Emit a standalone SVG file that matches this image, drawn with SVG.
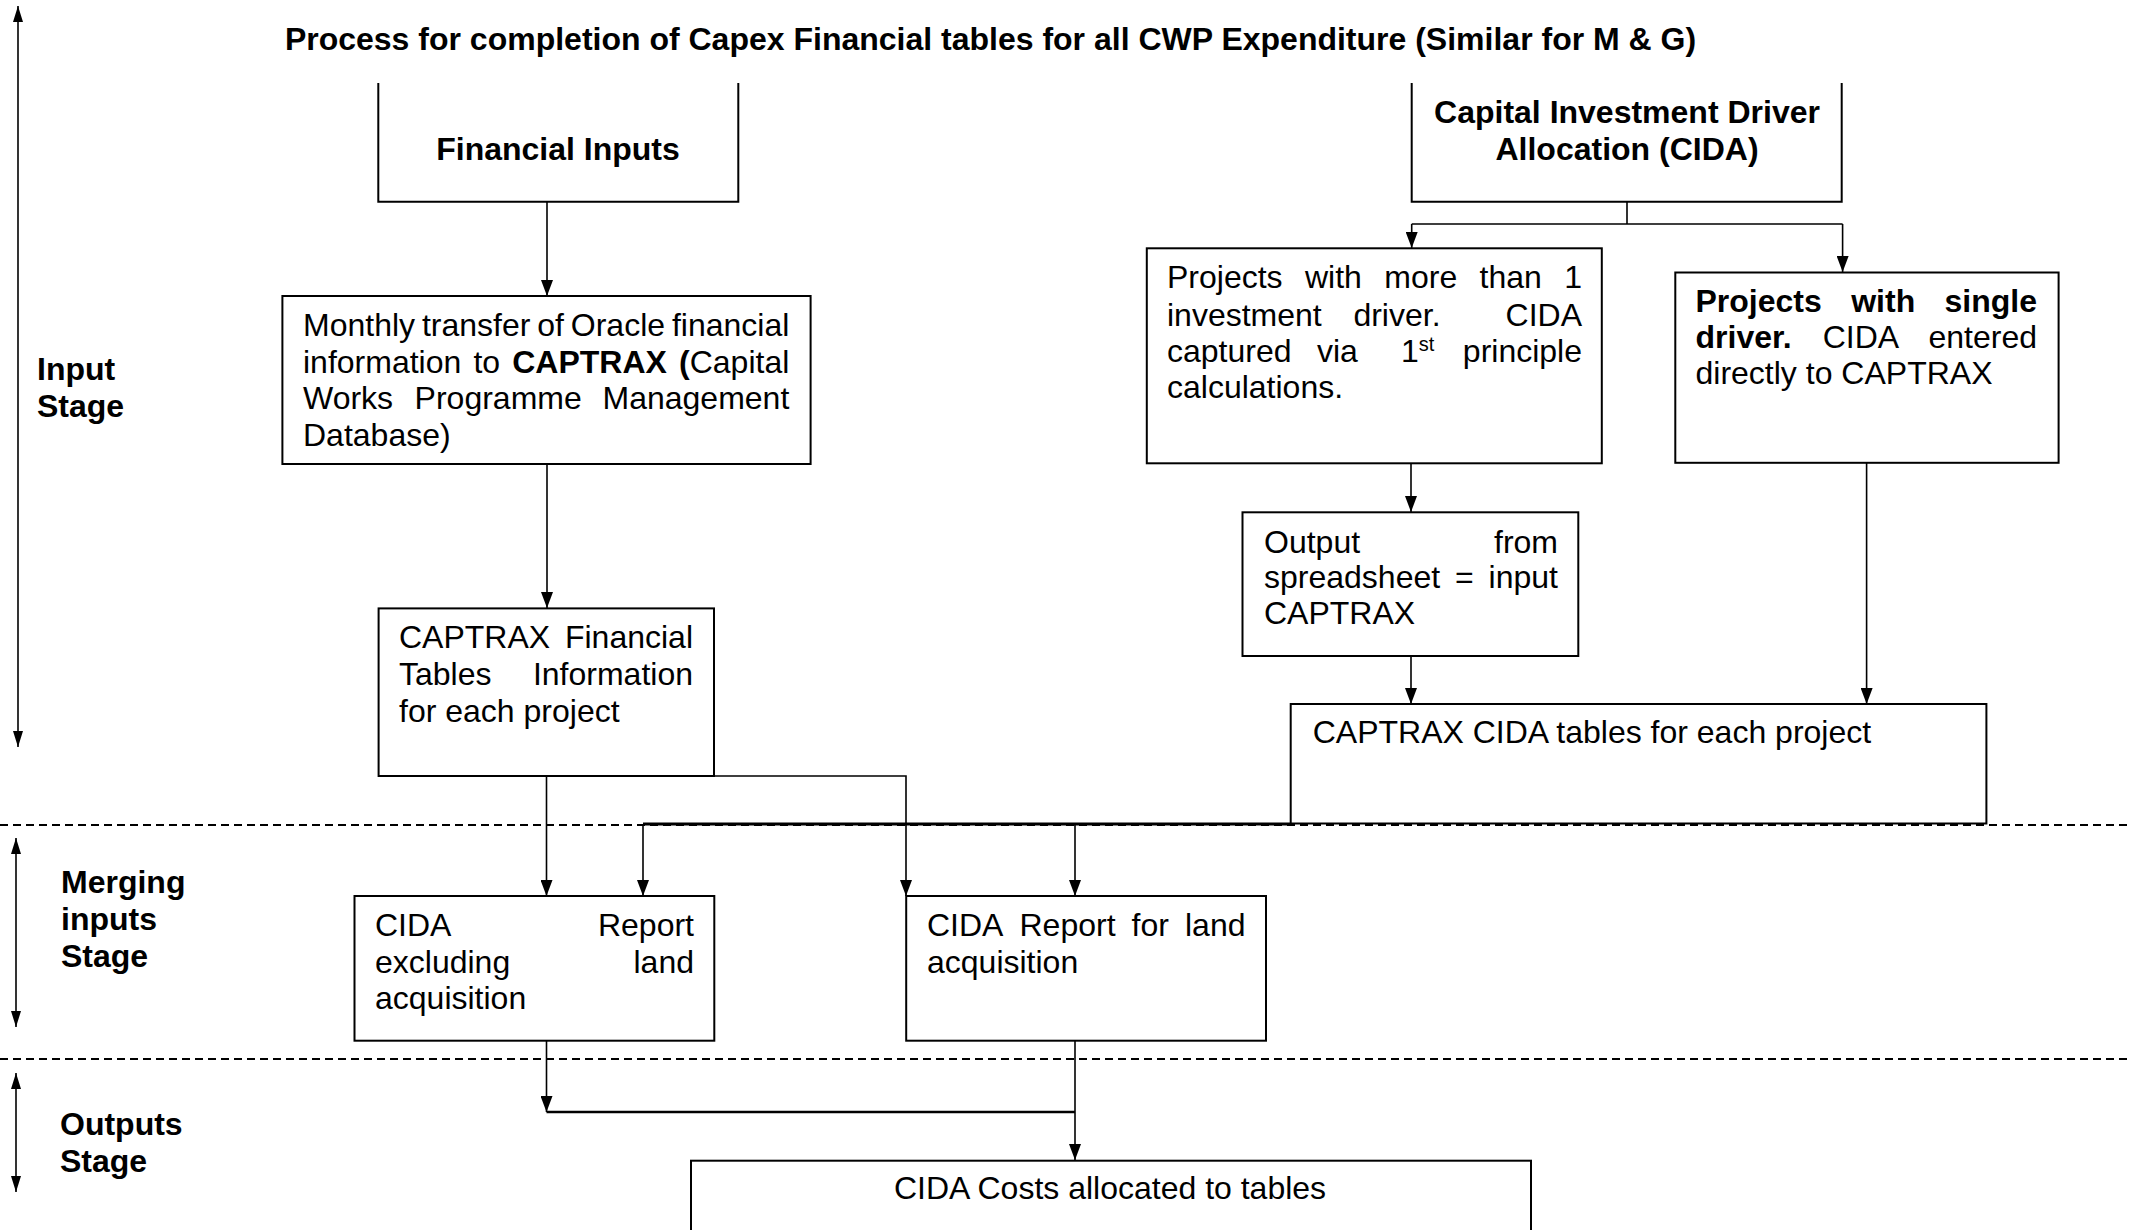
<svg xmlns="http://www.w3.org/2000/svg" width="2149" height="1230" viewBox="0 0 2149 1230">
<style>
.t{font-family:"Liberation Sans",Arial,sans-serif;font-size:32px;fill:#000}
.b{font-weight:bold}
.box{fill:#fff;stroke:#000;stroke-width:2}
.c{fill:none;stroke:#000;stroke-width:1.6}
.ck{fill:none;stroke:#000;stroke-width:3}
.dash{fill:none;stroke:#000;stroke-width:2;stroke-dasharray:8 5}
.stage{fill:none;stroke:#000;stroke-width:1.6}
</style>
<defs>
<marker id="ah" viewBox="0 0 16 12" refX="16" refY="6" markerWidth="16" markerHeight="12" markerUnits="userSpaceOnUse" orient="auto-start-reverse">
<path d="M0,0 L16,6 L0,12 z" fill="#000"/>
</marker>
<marker id="sh" viewBox="0 0 16 10" refX="16" refY="5" markerWidth="16" markerHeight="10" markerUnits="userSpaceOnUse" orient="auto-start-reverse">
<path d="M0,0 L16,5 L0,10 z" fill="#000"/>
</marker>
</defs>
<rect width="2149" height="1230" fill="#fff"/>

<g id="title">
<text class="t b" x="990.5" y="50" text-anchor="middle">Process for completion of Capex Financial tables for all CWP Expenditure (Similar for M &amp; G)</text>
</g>

<g id="stages">
<line class="dash" x1="0" y1="825" x2="2131" y2="825"/>
<line class="dash" x1="0" y1="1059" x2="2131" y2="1059"/>
<line class="stage" x1="18" y1="6" x2="18" y2="747" marker-start="url(#sh)" marker-end="url(#sh)"/>
<line class="stage" x1="16" y1="838" x2="16" y2="1027" marker-start="url(#sh)" marker-end="url(#sh)"/>
<line class="stage" x1="16" y1="1073" x2="16" y2="1192" marker-start="url(#sh)" marker-end="url(#sh)"/>
<text class="t b"><tspan x="37" y="380">Input</tspan><tspan x="37" y="417">Stage</tspan></text>
<text class="t b"><tspan x="61" y="893">Merging</tspan><tspan x="61" y="930">inputs</tspan><tspan x="61" y="967">Stage</tspan></text>
<text class="t b"><tspan x="60" y="1135">Outputs</tspan><tspan x="60" y="1172">Stage</tspan></text>
</g>

<g id="connectors">
<line class="c" x1="547" y1="202" x2="547" y2="296" marker-end="url(#ah)"/>
<path class="c" d="M1627,202 V224 M1411.7,224 H1842.6"/>
<line class="c" x1="1411.7" y1="224" x2="1411.7" y2="248" marker-end="url(#ah)"/>
<line class="c" x1="1842.6" y1="224" x2="1842.6" y2="272" marker-end="url(#ah)"/>
<line class="c" x1="547" y1="464" x2="547" y2="608" marker-end="url(#ah)"/>
<line class="c" x1="1411" y1="463" x2="1411" y2="512" marker-end="url(#ah)"/>
<line class="c" x1="1411" y1="656" x2="1411" y2="704" marker-end="url(#ah)"/>
<line class="c" x1="1866.6" y1="463" x2="1866.6" y2="704" marker-end="url(#ah)"/>
<line class="c" x1="546.5" y1="776" x2="546.5" y2="896" marker-end="url(#ah)"/>
<path class="c" d="M714,776 H906 V896" marker-end="url(#ah)"/>
<path class="ck" d="M1291,824 H643"/>
<line class="c" x1="643" y1="824" x2="643" y2="896" marker-end="url(#ah)"/>
<line class="c" x1="1075" y1="824" x2="1075" y2="896" marker-end="url(#ah)"/>
<line class="c" x1="546.5" y1="1041" x2="546.5" y2="1112" marker-end="url(#ah)"/>
<path class="ck" style="stroke-width:2.5" d="M546.5,1112 H1075"/>
<line class="c" x1="1075" y1="1041" x2="1075" y2="1160" marker-end="url(#ah)"/>
</g>

<g id="financial-inputs">
<path class="box" d="M378.3,83 V201.7 H738.3 V83"/>
<text class="t b" x="558" y="160" text-anchor="middle">Financial Inputs</text>
</g>

<g id="cida">
<path class="box" d="M1411.7,83 V201.7 H1841.7 V83"/>
<text class="t b" text-anchor="middle"><tspan x="1627" y="123">Capital Investment Driver</tspan><tspan x="1627" y="160">Allocation (CIDA)</tspan></text>
</g>

<g id="monthly-transfer">
<rect class="box" x="282.4" y="296" width="528.2" height="168"/>
<text class="t" y="336"><tspan x="303">Monthly</tspan> <tspan x="421.9">transfer</tspan> <tspan x="537.3">of</tspan> <tspan x="570.8">Oracle</tspan> <tspan x="789.3" text-anchor="end">financial</tspan></text>
<text class="t" y="372.7"><tspan x="303">information</tspan> <tspan x="473.4">to</tspan> <tspan x="512.2" class="b">CAPTRAX</tspan> <tspan x="789.3" text-anchor="end"><tspan class="b">(</tspan>Capital</tspan></text>
<text class="t" y="409.3"><tspan x="303">Works</tspan> <tspan x="414.6">Programme</tspan> <tspan x="789.3" text-anchor="end">Management</tspan></text>
<text class="t" x="303" y="445.7">Database)</text>
</g>

<g id="projects-multi">
<rect class="box" x="1146.8" y="248.3" width="455" height="215"/>
<text class="t" y="288.3"><tspan x="1167">Projects</tspan> <tspan x="1305">with</tspan> <tspan x="1384.3">more</tspan> <tspan x="1479.6">than</tspan> <tspan x="1582" text-anchor="end">1</tspan></text>
<text class="t" y="326"><tspan x="1167">investment</tspan> <tspan x="1353.4">driver.</tspan> <tspan x="1582" text-anchor="end">CIDA</tspan></text>
<text class="t" y="361.7"><tspan x="1167">captured</tspan> <tspan x="1317">via</tspan> <tspan x="1401">1<tspan font-size="20" dy="-11">st</tspan></tspan> <tspan x="1582" y="361.7" text-anchor="end">principle</tspan></text>
<text class="t" x="1167" y="398.3">calculations.</text>
</g>

<g id="projects-single">
<rect class="box" x="1675.3" y="272.5" width="383.3" height="190.3"/>
<text class="t b" y="311.7"><tspan x="1695.5">Projects</tspan> <tspan x="1851.2">with</tspan> <tspan x="2037" text-anchor="end">single</tspan></text>
<text class="t" y="348.3"><tspan x="1695.5" class="b">driver.</tspan> <tspan x="1822.7">CIDA</tspan> <tspan x="2037" text-anchor="end">entered</tspan></text>
<text class="t" x="1695.5" y="384.3">directly to CAPTRAX</text>
</g>

<g id="output-spreadsheet">
<rect class="box" x="1242.5" y="512.3" width="335.8" height="143.7"/>
<text class="t" y="552.7"><tspan x="1264">Output</tspan> <tspan x="1558" text-anchor="end">from</tspan></text>
<text class="t" y="588.3"><tspan x="1264">spreadsheet</tspan> <tspan x="1455">=</tspan> <tspan x="1558" text-anchor="end">input</tspan></text>
<text class="t" x="1264" y="624.3">CAPTRAX</text>
</g>

<g id="captrax-financial">
<rect class="box" x="378.6" y="608.4" width="335.4" height="167.6"/>
<text class="t" y="648"><tspan x="399">CAPTRAX</tspan> <tspan x="693" text-anchor="end">Financial</tspan></text>
<text class="t" y="685"><tspan x="399">Tables</tspan> <tspan x="693" text-anchor="end">Information</tspan></text>
<text class="t" x="399" y="721.7">for each project</text>
</g>

<g id="captrax-cida">
<rect class="box" x="1290.7" y="704" width="695.7" height="119.5"/>
<text class="t" x="1312.7" y="743.3">CAPTRAX CIDA tables for each project</text>
</g>

<g id="report-excl">
<rect class="box" x="354.5" y="896" width="359.8" height="144.7"/>
<text class="t" y="936"><tspan x="375">CIDA</tspan> <tspan x="694" text-anchor="end">Report</tspan></text>
<text class="t" y="972.7"><tspan x="375">excluding</tspan> <tspan x="694" text-anchor="end">land</tspan></text>
<text class="t" x="375" y="1009.3">acquisition</text>
</g>

<g id="report-land">
<rect class="box" x="906.2" y="896" width="359.8" height="144.7"/>
<text class="t" y="936"><tspan x="927">CIDA</tspan> <tspan x="1019.5">Report</tspan> <tspan x="1131.6">for</tspan> <tspan x="1245.5" text-anchor="end">land</tspan></text>
<text class="t" x="927" y="972.7">acquisition</text>
</g>

<g id="cida-costs">
<rect class="box" x="691" y="1160.7" width="840" height="100"/>
<text class="t" x="1110" y="1199" text-anchor="middle">CIDA Costs allocated to tables</text>
</g>
</svg>
